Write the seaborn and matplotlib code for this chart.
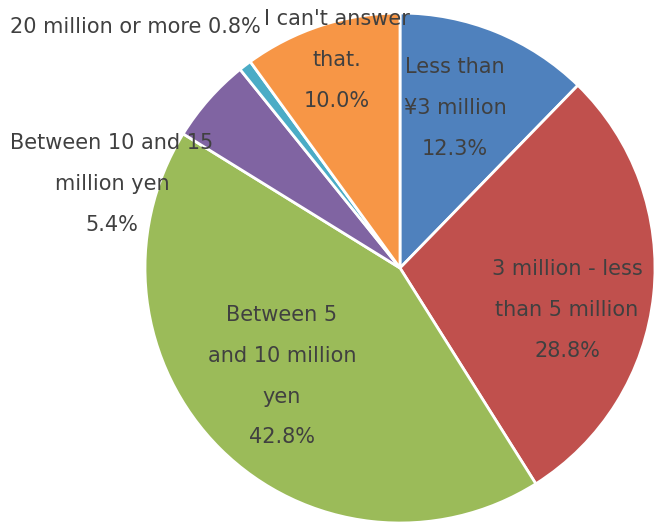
import matplotlib
matplotlib.use("Agg")
import matplotlib.pyplot as plt
import seaborn as sns

sns.set_style("white")
plt.rcParams["font.family"] = ["DejaVu Sans"]

# Household income distribution
categories = [
    "Less than\n¥3 million",
    "3 million - less\nthan 5 million",
    "Between 5\nand 10 million\nyen",
    "Between 10 and 15\nmillion yen",
    "20 million or more",
    "I can't answer\nthat.",
]
shares = [12.3, 28.8, 42.8, 5.4, 0.8, 10.0]
colors = ["#4F81BD", "#C0504D", "#9BBB59", "#8064A2", "#4BACC6", "#F79646"]

# label anchor points (data units, pie radius = 1)
label_xy = [
    (0.216, 0.627),
    (0.655, -0.165),
    (-0.463, -0.424),
    (-1.129, 0.329),
    (-1.039, 0.945),
    (-0.247, 0.816),
]
single_line = [False, False, False, False, True, False]

fig = plt.figure(figsize=(6.54, 5.22), dpi=100)
ax = fig.add_axes([0, 0, 1, 1])

ax.pie(
    shares,
    colors=colors,
    startangle=90,
    counterclock=False,
    radius=1.0,
    center=(0, 0),
    wedgeprops=dict(edgecolor="white", linewidth=2.0),
    normalize=True,
)

for cat, val, (x, y), one in zip(categories, shares, label_xy, single_line):
    sep = " " if one else "\n"
    ax.text(
        x, y, f"{cat}{sep}{val:.1f}%",
        ha="center", va="center", multialignment="center",
        fontsize=15, color="#404040", linespacing=2.3,
    )

ax.set_xlim(-400 / 255, 254 / 255)
ax.set_ylim(-254 / 255, 268 / 255)
ax.set_aspect("auto")
ax.axis("off")

fig.savefig("out.png", dpi=100, facecolor="white")
